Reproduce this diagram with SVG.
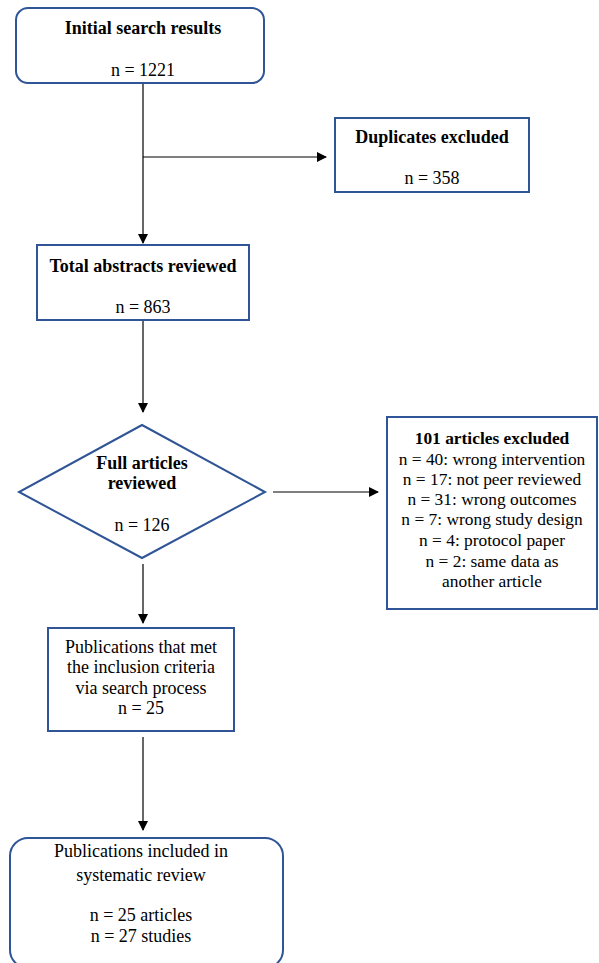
<svg xmlns="http://www.w3.org/2000/svg" width="599" height="963" viewBox="0 0 599 963">
<style>
.n{fill:#fff;stroke:#2F5597;stroke-width:2}
text{font-family:"Liberation Serif","Times New Roman",serif;font-size:18px;fill:#000;text-anchor:middle}
.b{font-weight:bold}
.s{font-size:17.4px}
.c{stroke:#000;stroke-width:1.2;fill:none}
</style>
<defs>
<marker id="a" markerWidth="10" markerHeight="10" refX="9" refY="5" orient="auto" markerUnits="userSpaceOnUse">
<path d="M0,0 L10,5 L0,10 z" fill="#000"/>
</marker>
</defs>
<rect width="599" height="963" fill="#fff"/>
<g id="connectors">
<path class="c" d="M143,83 V243" marker-end="url(#a)"/>
<path class="c" d="M143,157 H326" marker-end="url(#a)"/>
<path class="c" d="M143,320 V412" marker-end="url(#a)"/>
<path class="c" d="M273,492 H378" marker-end="url(#a)"/>
<path class="c" d="M143,564 V623" marker-end="url(#a)"/>
<path class="c" d="M143,737 V830" marker-end="url(#a)"/>
</g>
<g id="initial">
<rect class="n" x="16" y="8" width="248" height="75" rx="12"/>
<text class="b" x="143" y="34">Initial search results</text>
<text x="143" y="76">n = 1221</text>
</g>
<g id="duplicates">
<rect class="n" x="335" y="118" width="194" height="74"/>
<text class="b" x="432" y="143">Duplicates excluded</text>
<text x="432" y="184">n = 358</text>
</g>
<g id="abstracts">
<rect class="n" x="37" y="245" width="212" height="75"/>
<text class="b" x="143" y="272">Total abstracts reviewed</text>
<text x="143" y="313">n = 863</text>
</g>
<g id="full">
<path class="n" d="M142,425 L265,492 L142,558 L19,492 Z"/>
<text class="b" x="142" y="469">Full articles</text>
<text class="b" x="142" y="489">reviewed</text>
<text x="142" y="531">n = 126</text>
</g>
<g id="excluded">
<rect class="n" x="387" y="417" width="210" height="192"/>
<text class="b s" x="492" y="444">101 articles excluded</text>
<text class="s" x="492" y="465">n = 40: wrong intervention</text>
<text class="s" x="492" y="485">n = 17: not peer reviewed</text>
<text class="s" x="492" y="505">n = 31: wrong outcomes</text>
<text class="s" x="492" y="525">n = 7: wrong study design</text>
<text class="s" x="492" y="546">n = 4: protocol paper</text>
<text class="s" x="492" y="567">n = 2: same data as</text>
<text class="s" x="492" y="587">another article</text>
</g>
<g id="met">
<rect class="n" x="48" y="628" width="186" height="103"/>
<text x="141" y="653">Publications that met</text>
<text x="141" y="673">the inclusion criteria</text>
<text x="141" y="694">via search process</text>
<text x="141" y="714">n = 25</text>
</g>
<g id="included">
<rect class="n" x="10" y="838" width="273" height="130" rx="18"/>
<text x="141" y="857">Publications included in</text>
<text x="141" y="881">systematic review</text>
<text x="141" y="921">n = 25 articles</text>
<text x="141" y="942">n = 27 studies</text>
</g>
</svg>
